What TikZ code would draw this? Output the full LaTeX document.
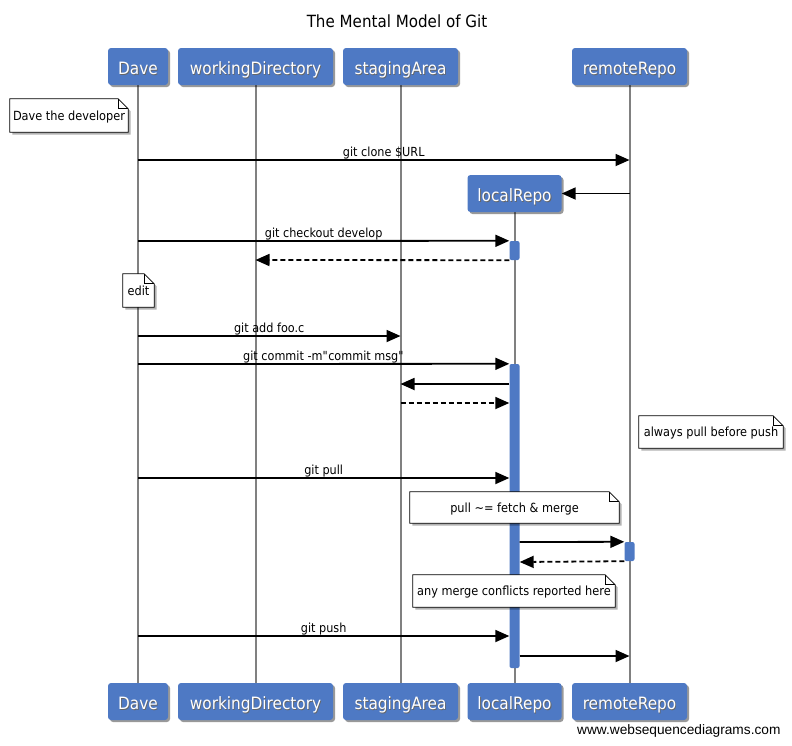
\documentclass[tikz,border=0pt]{standalone}
\usepackage{fontspec}
\setmainfont[FakeStretch=0.9]{DejaVu Sans}
\newfontfamily\urlfont{Liberation Sans}
\usetikzlibrary{arrows.meta,shadows}
\pgfdeclarelayer{lifelayer}
\pgfdeclarelayer{notelayer}
\pgfsetlayers{lifelayer,notelayer,main}
\definecolor{wsdblue}{RGB}{78,121,196}
\definecolor{lifegray}{RGB}{128,128,128}
\newcommand\wsdtext[1]{\makebox[0pt][l]{\hspace{0.8pt}\raisebox{-0.8pt}{\textcolor{black!60}{#1}}}\textcolor{white}{#1}}
\newcommand\wsdnote[1]{%
  \begin{pgfonlayer}{notelayer}
    \draw[notebox] (#1.south west) -- (#1.north west) -- ([xshift=-10pt]#1.north east)
      -- ([yshift=-10pt]#1.north east) -- (#1.south east) -- cycle;
    \draw[foldline] ([xshift=-10pt]#1.north east) -- ([xshift=-10pt,yshift=-10pt]#1.north east)
      -- ([yshift=-10pt]#1.north east);
  \end{pgfonlayer}}
\begin{document}
\begin{tikzpicture}[x=1pt,y=-1pt,
  part/.style={fill=wsdblue, rounded corners=3pt, minimum height=37pt, inner sep=0pt,
    text height=15.4pt, text depth=0pt,
    font=\fontsize{17}{20}\selectfont,
    drop shadow={shadow xshift=2pt,shadow yshift=-2pt,fill=black,opacity=0.4}},
  life/.style={draw=lifegray, line width=2pt},
  msg/.style={draw=black, line width=1.8pt, -{Triangle[length=14pt,width=12pt]}},
  ret/.style={msg, dash pattern=on 5pt off 3pt},
  lbl/.style={font=\fontsize{12.5}{14}\selectfont, above, inner sep=0pt},
  actbar/.style={fill=wsdblue, rounded corners=2pt, minimum width=10pt, inner sep=0pt},
  notetext/.style={font=\fontsize{12.6}{14}\selectfont, inner sep=0pt,
    text height=9pt, text depth=0pt},
  notebox/.style={draw=black, line width=0.8pt, fill=white,
    drop shadow={shadow xshift=2.5pt,shadow yshift=-2.5pt,fill=black,opacity=0.3}},
  foldline/.style={draw=black, line width=0.8pt}
]
\useasboundingbox (0,0) rectangle (792,745);
\node[font=\fontsize{16.8}{20}\selectfont] (title) at (397,21) {The Mental Model of Git};

% participants (top)
\node[part, minimum width=60pt]  (daveT) at (138,66.5)   {\wsdtext{Dave}};
\node[part, minimum width=155pt] (wdT)   at (255.5,66.5) {\wsdtext{workingDirectory}};
\node[part, minimum width=115pt] (saT)   at (400.5,66.5) {\wsdtext{stagingArea}};
\node[part, minimum width=115pt] (remT)  at (629.5,66.5) {\wsdtext{remoteRepo}};
\node[part, minimum width=94pt]  (locT)  at (514.5,193.5) {\wsdtext{localRepo}};
% participants (bottom)
\node[part, minimum width=60pt]  (daveB) at (138,701.5)   {\wsdtext{Dave}};
\node[part, minimum width=155pt] (wdB)   at (255.5,701.5) {\wsdtext{workingDirectory}};
\node[part, minimum width=115pt] (saB)   at (400.5,701.5) {\wsdtext{stagingArea}};
\node[part, minimum width=94pt]  (locB)  at (514.5,701.5) {\wsdtext{localRepo}};
\node[part, minimum width=115pt] (remB)  at (629.5,701.5) {\wsdtext{remoteRepo}};

% lifelines and activation bars
\begin{pgfonlayer}{lifelayer}
  \draw[life] (daveT.south) -- (daveB.north);
  \draw[life] (wdT.south) -- (wdB.north);
  \draw[life] (saT.south) -- (saB.north);
  \draw[life] (locT.south) -- (locB.north);
  \draw[life] (remT.south) -- (remB.north);
  \node[actbar, minimum height=19pt]  (a1) at (514.5,250.5) {};
  \node[actbar, minimum height=304pt] (a2) at (514.5,516) {};
  \node[actbar, minimum height=19pt]  (a3) at (629.5,551.5) {};
\end{pgfonlayer}

% notes
\node[notetext, minimum width=118pt, minimum height=33pt] (n1) at (69,115.5) {Dave the developer};
\wsdnote{n1}
\node[notetext, minimum width=31pt, minimum height=33pt] (n2) at (138.5,290.5) {edit};
\wsdnote{n2}
\node[notetext, minimum width=144pt, minimum height=32pt] (n3) at (711,432) {always pull before push};
\wsdnote{n3}
\node[notetext, minimum width=209pt, minimum height=31pt] (n4) at (514.5,507.5) {pull \textasciitilde= fetch \& merge};
\wsdnote{n4}
\node[notetext, minimum width=202pt, minimum height=32pt] (n5) at (514,591) {any merge conflicts reported here};
\wsdnote{n5}

% messages
\draw[msg] (daveT |- 0,160) -- node[lbl]{git clone \$URL} (remT |- 0,160);
\draw[msg] (remT |- 0,193.5) -- (locT.east);
\draw[msg] (daveT |- 0,241) -- node[lbl]{git checkout develop} (a1.north west);
\draw[ret] (a1.south west) -- (wdT |- 0,260);
\draw[msg] (daveT |- 0,336) -- node[lbl]{git add foo.c} (saT |- 0,336);
\draw[msg] (daveT |- 0,364) -- node[lbl]{git commit -m\textquotedbl commit msg\textquotedbl} (a2.north west);
\draw[msg] (a2.west |- 0,384) -- (saT |- 0,384);
\draw[ret] (saT |- 0,403) -- (a2.west |- 0,403);
\draw[msg] (daveT |- 0,478) -- node[lbl]{git pull} (a2.west |- 0,478);
\draw[msg] (a2.east |- 0,542) -- (a3.north west);
\draw[ret] (a3.south west) -- (a2.east |- 0,562);
\draw[msg] (daveT |- 0,636) -- node[lbl]{git push} (a2.west |- 0,636);
\draw[msg] (a2.east |- 0,656) -- (remT |- 0,656);

\node[font=\urlfont\fontsize{13.7}{16}\selectfont, anchor=east] (url) at (784,731) {www.websequencediagrams.com};
\end{tikzpicture}
\end{document}
